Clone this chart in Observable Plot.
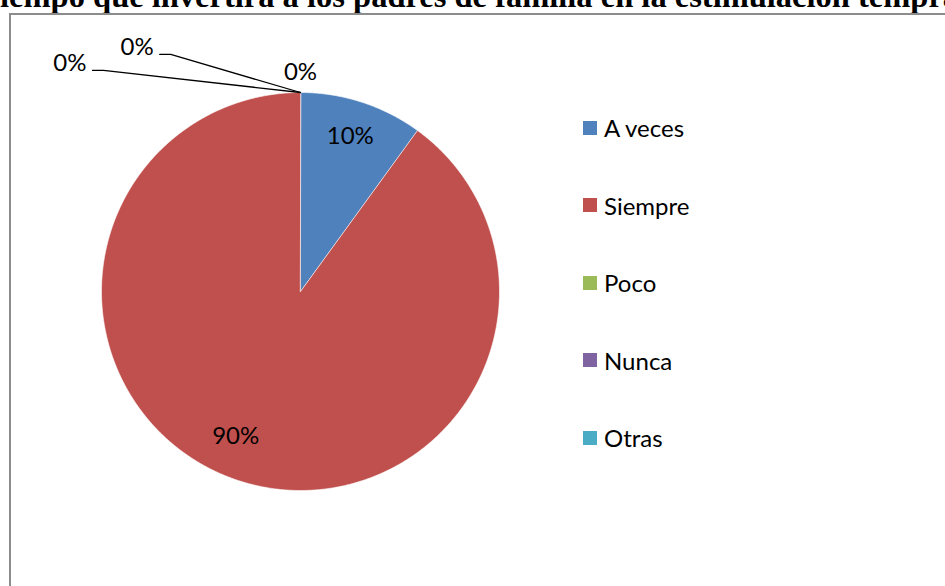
<!DOCTYPE html>
<html>
<head>
<meta charset="utf-8">
<script src="https://cdn.jsdelivr.net/npm/d3@7"></script>
<script src="https://cdn.jsdelivr.net/npm/@observablehq/plot@0.6"></script>
<style>
  html, body { margin: 0; padding: 0; background: #fff; overflow: hidden; }
  #wrap { position: relative; width: 945px; height: 586px; overflow: hidden; background: #fff; }
  #title { position: absolute; left: -21px; top: -20px; white-space: nowrap;
    font-family: "Liberation Serif", "Times New Roman", serif; font-weight: bold; font-size: 32.5px; color: #000; line-height: 32px; }
  #frame { position: absolute; left: 9px; top: 13px; width: 1000px; height: 1000px;
    border-left: 2px solid #8c8c8c; border-top: 2px solid #8c8c8c; box-sizing: border-box; }
  #chart { position: absolute; left: 0; top: 0; }
  #legend { position: absolute; left: 583px; top: 89px; font-family: Lato, "Open Sans", sans-serif; font-size: 24px; color: #000; }
  .row { height: 77.5px; display: flex; align-items: center; }
  .sw { width: 14px; height: 14px; margin-right: 7px; }
</style>
</head>
<body>
<div id="wrap">
  <div id="title"></div>
  <div id="frame"></div>
  <div id="chart"></div>
  <div id="legend"></div>
</div>
<script>
// ---- data ----
const titleText = "Tiempo que invertirá a los padres de familia en la estimulación temprana";
const categories = ["A veces", "Siempre", "Poco", "Nunca", "Otras"];
const percents = [10, 90, 0, 0, 0];
const colors = ["#4F81BD", "#C0504D", "#9BBB59", "#8064A2", "#4BACC6"];

// ---- layout (not data) ----
const FONT = "Lato, 'Open Sans', sans-serif";
// pixel nudges for the labels inside the slices
const innerNudge = [{dx: 0, dy: -2}, {dx: -15, dy: -8}];
// leader-line elbows for zero-value labels (polar, pie radius = 1, degrees from 12 o'clock)
const zeroLayout = [
  {dist: 1.10, angle: 0, leader: false},
  {dist: 1.358, angle: -28.7, leader: true},
  {dist: 1.488, angle: -41.7, leader: true}
];

document.getElementById("title").textContent = titleText;

const rows = categories.map((c, i) => ({name: c, value: percents[i], color: colors[i]}));
const arcs = d3.pie().sort(null).value(d => d.value)(rows);

// slice outlines, sampled along the arc (pie units, y up)
const slicePts = [];
for (const a of arcs) {
  if (a.endAngle - a.startAngle <= 0) continue;
  slicePts.push({name: a.data.name, x: 0, y: 0});
  const n = Math.max(2, Math.ceil((a.endAngle - a.startAngle) / (Math.PI / 360)));
  for (let k = 0; k <= n; k++) {
    const t = a.startAngle + (a.endAngle - a.startAngle) * k / n;
    slicePts.push({name: a.data.name, x: Math.sin(t), y: Math.cos(t)});
  }
}

// labels
const inner = [];
const topLabels = [];
const sideLabels = [];
const leaders = [];
let zi = 0, ii = 0;
const fmt = d3.format(".0%");
for (const a of arcs) {
  const label = fmt(a.data.value / 100);
  if (a.data.value > 0) {
    const mid = (a.startAngle + a.endAngle) / 2;
    const nd = innerNudge[ii++] || {dx: 0, dy: 0};
    inner.push({x: 0.81 * Math.sin(mid), y: 0.81 * Math.cos(mid), label, dx: nd.dx, dy: nd.dy});
  } else {
    const L = zeroLayout[zi++];
    const t = L.angle * Math.PI / 180;
    const ex = L.dist * Math.sin(t), ey = L.dist * Math.cos(t);
    const edge = {x: Math.sin(a.startAngle), y: Math.cos(a.startAngle)};
    if (L.leader) {
      const seg = 11 / 199;
      leaders.push({id: a.data.name, x: edge.x, y: edge.y});
      leaders.push({id: a.data.name, x: ex, y: ey});
      leaders.push({id: a.data.name, x: ex - seg, y: ey});
      sideLabels.push({x: ex - seg, y: ey, label});
    } else {
      topLabels.push({x: ex, y: ey, label});
    }
  }
}

const chart = Plot.plot({
  width: 945,
  height: 586,
  margin: 0,
  style: {background: "transparent", overflow: "visible"},
  x: {domain: [-1, 1], range: [101, 499], axis: null},
  y: {domain: [-1, 1], range: [490, 92], axis: null},
  color: {domain: categories, range: colors},
  marks: [
    Plot.line(slicePts, {x: "x", y: "y", z: "name", fill: "name", stroke: "#fff", strokeWidth: 0.6, curve: "linear-closed"}),
    Plot.line(leaders, {x: "x", y: "y", z: "id", stroke: "#000", strokeWidth: 1.3}),
    Plot.text(inner.slice(0, 1), {x: "x", y: "y", text: "label", fontSize: 24, fontFamily: FONT, fill: "#000", dx: innerNudge[0].dx, dy: innerNudge[0].dy}),
    Plot.text(inner.slice(1), {x: "x", y: "y", text: "label", fontSize: 24, fontFamily: FONT, fill: "#000", dx: innerNudge[1].dx, dy: innerNudge[1].dy}),
    Plot.text(topLabels, {x: "x", y: "y", text: "label", fontSize: 24, fontFamily: FONT, fill: "#000"}),
    Plot.text(sideLabels, {x: "x", y: "y", text: "label", fontSize: 24, fontFamily: FONT, fill: "#000", textAnchor: "end", dx: -6, dy: -7})
  ]
});
document.getElementById("chart").appendChild(chart);

const legend = document.getElementById("legend");
for (const r of rows) {
  const row = document.createElement("div");
  row.className = "row";
  const sw = document.createElement("div");
  sw.className = "sw";
  sw.style.background = r.color;
  const tx = document.createElement("span");
  tx.textContent = r.name;
  row.appendChild(sw); row.appendChild(tx);
  legend.appendChild(row);
}
</script>
</body>
</html>
